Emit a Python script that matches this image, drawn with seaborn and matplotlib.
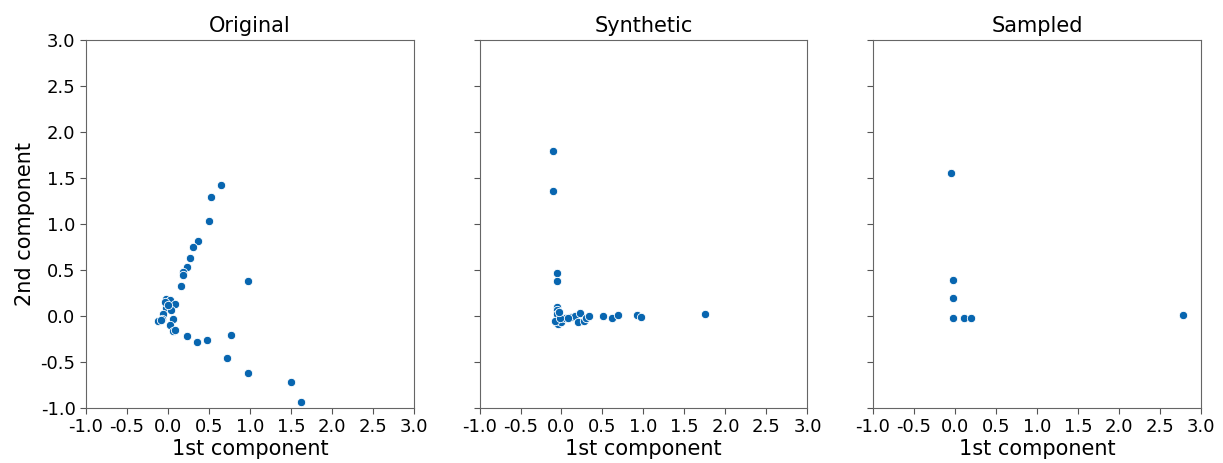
import numpy as np
import pandas as pd
import matplotlib.pyplot as plt
import seaborn as sns

# Original embedding (1st, 2nd component)
orig_x = [0.65, 0.53, 0.50, 0.37, 0.30, 0.27, 0.23, 0.18, 0.18, 0.16, 0.98,
          -0.02, 0.03, 0.08, -0.03, 0.04, -0.06, -0.07, -0.12, 0.06, 0.02,
          0.06, 0.09, 0.23, 0.35, 0.48, 0.77, 0.72, 0.98, 1.50, 1.62,
          -0.04, 0.00, -0.09]
orig_y = [1.43, 1.30, 1.03, 0.82, 0.75, 0.63, 0.53, 0.48, 0.45, 0.33, 0.38,
          0.19, 0.17, 0.13, 0.09, 0.07, 0.02, -0.03, -0.05, -0.03, -0.10,
          -0.16, -0.15, -0.22, -0.28, -0.26, -0.21, -0.46, -0.62, -0.72, -0.94,
          0.15, 0.12, -0.04]

synth_x = [-0.10, -0.10, -0.06, -0.06, -0.06, -0.06, -0.05, -0.06, -0.04, 0.00,
           0.04, 0.12, 0.16, 0.23, 0.20, 0.27, 0.30, 0.33, 0.51, 0.61, 0.69,
           0.92, 0.97, 1.75, -0.08, -0.02, 0.08, -0.03]
synth_y = [1.80, 1.36, 0.47, 0.38, 0.10, 0.07, 0.02, -0.08, -0.09, -0.07,
           -0.02, -0.01, 0.00, 0.03, -0.06, -0.05, -0.02, 0.00, 0.00, -0.02, 0.01,
           0.01, -0.01, 0.02, -0.05, -0.02, -0.02, 0.04]

samp_x = [-0.05, -0.03, -0.03, -0.03, 0.11, 0.20, 2.78]
samp_y = [1.56, 0.39, 0.20, -0.02, -0.02, -0.02, 0.01]

panels = [("Original", orig_x, orig_y),
          ("Synthetic", synth_x, synth_y),
          ("Sampled", samp_x, samp_y)]

ticks = np.arange(-1.0, 3.01, 0.5)
tick_labels = ["%.1f" % t for t in ticks]

fig, axes = plt.subplots(1, 3, figsize=(12.23, 4.63), dpi=100, sharey=True)
plt.subplots_adjust(left=0.0703, right=0.982, top=0.913, bottom=0.119, wspace=0.2)

for ax, (name, xs, ys) in zip(axes, panels):
    df = pd.DataFrame({"x": xs, "y": ys})
    sns.scatterplot(data=df, x="x", y="y", ax=ax, color="#0866b0",
                    s=36, edgecolor="white", linewidth=0.6)
    ax.set_xlim(-1, 3)
    ax.set_ylim(-1, 3)
    ax.set_xticks(ticks)
    ax.set_xticklabels(tick_labels)
    ax.set_yticks(ticks)
    ax.set_yticklabels(tick_labels)
    ax.tick_params(labelsize=13, color="#555555", length=4)
    ax.set_title(name, fontsize=15)
    ax.set_xlabel("1st component", fontsize=15, labelpad=2)
    ax.set_ylabel("")
    for sp in ax.spines.values():
        sp.set_color("#666666")

axes[0].set_ylabel("2nd component", fontsize=15)

plt.savefig("out.png", dpi=100)
